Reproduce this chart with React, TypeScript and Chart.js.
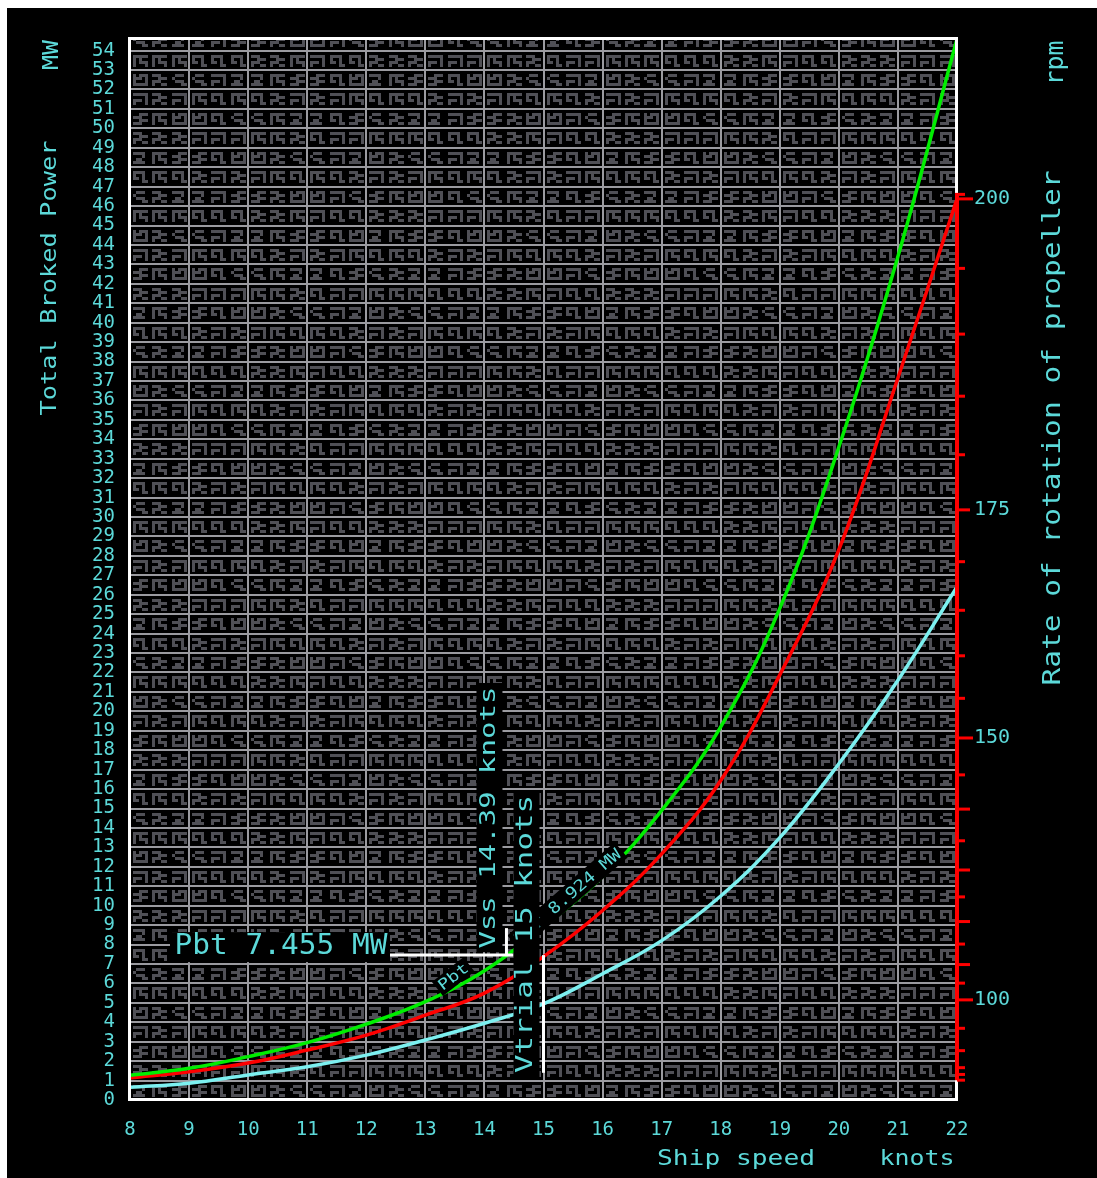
import React, { useEffect, useRef } from 'react';
import { Chart, registerables, LinearScale } from 'chart.js';

// ---------------- data ----------------
const speeds = [8, 9, 10, 11, 12, 13, 14, 15, 16, 17, 18, 19, 20, 21, 22];
const brakePowerMW = [1.27, 1.63, 2.23, 2.95, 3.9, 5.06, 6.65, 8.92, 11.5, 14.9, 19.2, 25.3, 33.6, 43.4, 54.6];
const propellerRpm = [62, 67, 73, 80.3, 87.2, 94.9, 102.1, 112, 122.3, 132.8, 144.2, 157.8, 171.2, 186.5, 200];
const effectivePowerMW = [0.65, 0.86, 1.29, 1.71, 2.31, 3.09, 3.95, 4.95, 6.5, 8.2, 10.5, 13.5, 17.3, 21.6, 26.4];

const speedTicks = [8, 9, 10, 11, 12, 13, 14, 15, 16, 17, 18, 19, 20, 21, 22];
const powerTicks = [0, 1, 2, 3, 4, 5, 6, 7, 8, 9, 10, 11, 12, 13, 14, 15, 16, 17, 18, 19, 20, 21, 22, 23, 24, 25, 26, 27,
  28, 29, 30, 31, 32, 33, 34, 35, 36, 37, 38, 39, 40, 41, 42, 43, 44, 45, 46, 47, 48, 49, 50, 51, 52, 53, 54];
const rpmTicks = [60, 65, 70, 80, 90, 100, 105, 110, 115, 120, 125, 130, 135, 140, 145, 150, 155, 160, 165, 170,
  175, 180, 185, 190, 195, 200];
const rpmLabels = [100, 150, 175, 200];

const VSS = 14.39;
const PBT = 7.455;
const VTRIAL = 15;
const PTR = 8.924;

// ---------------- style ----------------
const CYAN = '#5cd9d9';
const CYAN_LINE = '#7cf0f0';
const GRID = '#9b9ba0';
const GLYPH = '#505056';
const FONT = '"DejaVu Sans Mono", monospace';
const OX = 7;
const OY = 8;
const RPM_EXP = 3.17;

const GLYPHS = [
  ['11110', '00010', '01100', '11110'],
  ['11111', '00001', '11101', '10001'],
  ['01110', '10000', '01110', '00011'],
  ['11100', '00111', '11100', '10011'],
  ['10111', '11101', '10001', '11111'],
  ['11110', '10010', '11010', '00011'],
  ['00111', '11100', '00111', '11100'],
  ['11111', '10100', '10111', '10001'],
];

class PropellerScale extends LinearScale {
  static id = 'propeller';
  static defaults = LinearScale.defaults;
  getPixelForValue(value: any) {
    if (value === null || value === undefined || Number.isNaN(value)) return NaN;
    const a = Math.pow(Math.max(this.min, 0), RPM_EXP);
    const b = Math.pow(this.max, RPM_EXP);
    return this.getPixelForDecimal((Math.pow(Math.max(+value, 0), RPM_EXP) - a) / (b - a));
  }
  getValueForPixel(pixel: number) {
    const a = Math.pow(Math.max(this.min, 0), RPM_EXP);
    const b = Math.pow(this.max, RPM_EXP);
    const d = this.getDecimalForPixel(pixel);
    return Math.pow(Math.max(a + d * (b - a), 0), 1 / RPM_EXP);
  }
}

Chart.register(...registerables, PropellerScale as any);

function fitText(ctx: CanvasRenderingContext2D, text: string, cx: number, cy: number, length: number,
  size: number, angle: number, color: string) {
  ctx.save();
  ctx.translate(cx, cy);
  ctx.rotate(angle);
  ctx.font = `${size}px ${FONT}`;
  const w = ctx.measureText(text).width;
  ctx.scale(length / w, 1);
  ctx.textAlign = 'center';
  ctx.textBaseline = 'middle';
  ctx.fillStyle = color;
  ctx.fillText(text, 0, 0);
  ctx.restore();
}

function diagLabel(ctx: CanvasRenderingContext2D, text: string, x: number, y: number, angDeg: number,
  len: number, h: number, size: number) {
  ctx.save();
  ctx.translate(x, y);
  ctx.rotate((angDeg * Math.PI) / 180);
  ctx.fillStyle = '#000';
  ctx.fillRect(0, -h, len, h);
  fitText(ctx, text, len / 2, -h / 2 + 1, len - 6, size, 0, CYAN);
  ctx.restore();
}

function line(ctx: CanvasRenderingContext2D, x1: number, y1: number, x2: number, y2: number) {
  ctx.beginPath();
  ctx.moveTo(x1, y1);
  ctx.lineTo(x2, y2);
  ctx.stroke();
}

const decor = {
  id: 'shipDecor',
  beforeDraw(chart: any) {
    const ctx: CanvasRenderingContext2D = chart.ctx;
    const { left, right, top, bottom } = chart.chartArea;
    ctx.save();
    ctx.fillStyle = '#000';
    ctx.fillRect(0, 0, chart.width, chart.height);
    ctx.beginPath();
    ctx.rect(left, top, right - left, bottom - top);
    ctx.clip();
    ctx.fillStyle = GLYPH;
    const xs = chart.scales.x;
    const ys = chart.scales.y;
    for (let i = 0; i < speedTicks.length - 1; i++) {
      const x0 = xs.getPixelForValue(speedTicks[i]);
      for (let j = 0; j < powerTicks.length; j++) {
        const y0 = ys.getPixelForValue(powerTicks[j] + 1);
        for (let k = 0; k < 3; k++) {
          const g = GLYPHS[(i * 5 + j * 3 + k * 7 + ((i + j * k) % 4)) % GLYPHS.length];
          const gx = Math.round(x0 + 3 + k * 19.3);
          const gy = Math.round(y0 + 4);
          for (let r = 0; r < g.length; r++) {
            for (let c = 0; c < g[r].length; c++) {
              if (g[r][c] === '1') ctx.fillRect(gx + c * 3, gy + r * 3, 3, 3);
            }
          }
        }
      }
    }
    ctx.restore();
  },
  afterDatasetsDraw(chart: any) {
    const ctx: CanvasRenderingContext2D = chart.ctx;
    const xs = chart.scales.x;
    const ys = chart.scales.y;
    const xV = xs.getPixelForValue(VSS);
    const xT = xs.getPixelForValue(VTRIAL);
    const yP = ys.getPixelForValue(PBT);
    const yTr = ys.getPixelForValue(PTR);
    ctx.save();
    // labels along the power curve
    diagLabel(ctx, 'Pbt', 443 - OX, yP + 41, -38, 40, 18, 15);
    diagLabel(ctx, `Ptr ${PTR} MW`, xT - 23, yTr + 24, -41, 142, 20, 16);

    // Pbt label
    ctx.fillStyle = '#000';
    ctx.fillRect(170 - OX, yP - 23, 220, 30);
    fitText(ctx, `Pbt ${PBT} MW`, 281 - OX, yP - 8, 213, 28, 0, CYAN);

    // white guide lines
    ctx.strokeStyle = '#ffffff';
    ctx.lineWidth = 3;
    line(ctx, 390 - OX, yP, xV + 6, yP);
    line(ctx, xV - 1, yP + 1, xV - 1, yP - 27);
    line(ctx, xT, yP, xT, ys.getPixelForValue(1.4));

    // vertical speed boxes
    ctx.fillStyle = '#000';
    const vTop = 683 - OY;
    ctx.fillRect(xV - 31, vTop, 26, yP - 3 - vTop);
    fitText(ctx, `Vss ${VSS} knots`, xV - 18, (vTop + yP - 3) / 2, 262, 22, -Math.PI / 2, CYAN);
    const tTop = 790 - OY;
    const tBot = 1078 - OY;
    ctx.fillStyle = '#000';
    ctx.fillRect(xT - 30, tTop, 26, tBot - tTop);
    fitText(ctx, `Vtrial ${VTRIAL} knots`, xT - 17, (tTop + tBot) / 2, 278, 23, -Math.PI / 2, CYAN);
    ctx.restore();
  },
  afterDraw(chart: any) {
    const ctx: CanvasRenderingContext2D = chart.ctx;
    const { left, right, top, bottom } = chart.chartArea;
    const rs = chart.scales.rpm;
    ctx.save();
    // frame
    ctx.strokeStyle = '#ffffff';
    ctx.lineWidth = 3;
    ctx.strokeRect(left - 0.5, top + 1.5, right - left, bottom - top - 2);
    // rpm axis
    ctx.strokeStyle = '#ff0000';
    ctx.lineWidth = 4;
    const yTop = rs.getPixelForValue(200) - 6;
    const yBot = rs.getPixelForValue(60);
    line(ctx, right, yTop, right, yBot);
    ctx.lineWidth = 3;
    line(ctx, right - 2, yTop + 1.5, right + 8, yTop + 1.5);
    for (const v of rpmTicks) {
      const y = rs.getPixelForValue(v);
      const len = v % 50 === 0 ? 16 : v === 175 || (v > 100 && v < 150 && v % 10 === 0) ? 13 : 8;
      line(ctx, right, y, right + len, y);
    }
    // titles
    fitText(ctx, 'MW', 52 - OX, 55 - OY, 30, 22, -Math.PI / 2, CYAN);
    fitText(ctx, 'Total Broked Power', 51 - OX, 278 - OY, 275, 21, -Math.PI / 2, CYAN);
    fitText(ctx, 'rpm', 1057 - OX, 63 - OY, 45, 24, -Math.PI / 2, CYAN);
    fitText(ctx, 'Rate of rotation of propeller', 1053 - OX, 428 - OY, 515, 25, -Math.PI / 2, CYAN);
    fitText(ctx, 'Ship speed', 736 - OX, 1160 - OY, 158, 21, 0, CYAN);
    fitText(ctx, 'knots', 917 - OX, 1160 - OY, 75, 21, 0, CYAN);
    ctx.restore();
  },
};

export default function App() {
  const ref = useRef<HTMLCanvasElement>(null);
  useEffect(() => {
    const canvas = ref.current;
    if (!canvas) return;
    const pts = (vals: number[]) => speeds.map((s, i) => ({ x: s, y: vals[i] }));
    const common = { borderWidth: 3.5, pointRadius: 0, tension: 0.4 };
    const chart = new Chart(canvas, {
      type: 'line',
      data: {
        datasets: [
          { label: 'Total broke power', data: pts(brakePowerMW), borderColor: '#00ee00', yAxisID: 'y', ...common },
          { label: 'Rate of rotation', data: pts(propellerRpm), borderColor: '#ff0000', yAxisID: 'rpm', ...common },
          { label: 'Effective power', data: pts(effectivePowerMW), borderColor: CYAN_LINE, yAxisID: 'y', ...common },
        ],
      },
      options: {
        responsive: false,
        maintainAspectRatio: false,
        devicePixelRatio: 1,
        animation: false,
        layout: { padding: { top: 29, left: 0, right: 0, bottom: 0 } },
        plugins: { legend: { display: false }, tooltip: { enabled: false } },
        scales: {
          x: {
            type: 'linear',
            min: 8,
            max: 22,
            grid: { color: GRID, lineWidth: 2, drawTicks: false },
            border: { display: false },
            ticks: {
              autoSkip: false,
              padding: 19,
              color: CYAN,
              font: { family: FONT, size: 19 },
              maxRotation: 0,
              callback: (v: any) => String(v),
            },
            afterBuildTicks: (s: any) => {
              s.ticks = speedTicks.map((v) => ({ value: v }));
            },
            afterFit: (s: any) => {
              s.height = 78;
            },
          },
          y: {
            type: 'linear',
            position: 'left',
            min: 0,
            max: 54.7,
            grid: { color: GRID, lineWidth: 2, drawTicks: false },
            border: { display: false },
            ticks: {
              autoSkip: false,
              padding: 15,
              color: CYAN,
              font: { family: FONT, size: 19 },
              callback: (v: any) => String(v),
            },
            afterBuildTicks: (s: any) => {
              s.ticks = powerTicks.map((v) => ({ value: v }));
            },
            afterFit: (s: any) => {
              s.width = 123;
            },
          },
          rpm: {
            type: 'propeller',
            position: 'right',
            min: 0,
            max: 210.7,
            grid: { display: false, drawTicks: false },
            border: { display: false },
            ticks: {
              autoSkip: false,
              padding: 17,
              color: CYAN,
              font: { family: FONT, size: 20 },
              callback: (v: any) => (rpmLabels.includes(v) ? String(v) : ''),
            },
            afterBuildTicks: (s: any) => {
              s.ticks = rpmTicks.map((v) => ({ value: v }));
            },
            afterFit: (s: any) => {
              s.width = 140;
            },
          },
        } as any,
      },
      plugins: [decor],
    } as any);
    return () => chart.destroy();
  }, []);

  return (
    <div style={{ position: 'absolute', left: OX, top: OY, width: 1090, height: 1170, background: '#000' }}>
      <canvas ref={ref} width={1090} height={1170} style={{ display: 'block', width: 1090, height: 1170 }} />
    </div>
  );
}
